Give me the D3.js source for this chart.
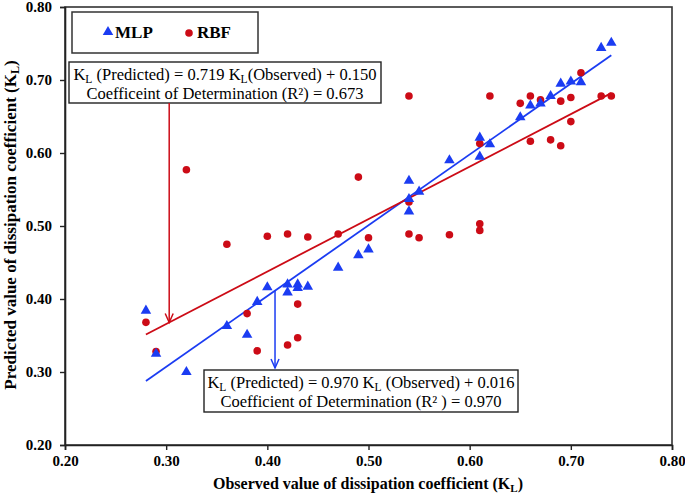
<!DOCTYPE html>
<html><head><meta charset="utf-8">
<script src="https://cdn.jsdelivr.net/npm/d3@7/dist/d3.min.js"></script>
<style>body{margin:0;background:#fff}svg{display:block}</style>
</head><body><svg id="c" width="685" height="495"></svg>
<script>
// ---- data ----
const xTicks = [0.20, 0.30, 0.40, 0.50, 0.60, 0.70, 0.80];
const yTicks = [0.20, 0.30, 0.40, 0.50, 0.60, 0.70, 0.80];
const seriesNames = ["MLP", "RBF"];
const mlpObserved  = [0.28,0.29,0.32,0.36,0.38,0.39,0.40,0.42,0.42,0.43,0.43,0.44,0.47,0.49,0.50,0.54,0.54,0.54,0.55,0.58,0.61,0.61,0.62,0.65,0.66,0.67,0.68,0.69,0.70,0.71,0.73,0.74];
const mlpPredicted = [0.384,0.325,0.300,0.363,0.351,0.396,0.416,0.420,0.409,0.420,0.415,0.417,0.443,0.460,0.468,0.520,0.537,0.562,0.547,0.590,0.595,0.621,0.612,0.649,0.665,0.668,0.678,0.695,0.698,0.697,0.744,0.751];
const rbfObserved  = [0.28,0.29,0.32,0.36,0.38,0.39,0.40,0.42,0.42,0.43,0.43,0.44,0.47,0.49,0.50,0.54,0.54,0.54,0.55,0.58,0.61,0.61,0.61,0.62,0.65,0.66,0.66,0.67,0.68,0.69,0.69,0.70,0.70,0.71,0.73,0.74];
const rbfPredicted = [0.368,0.328,0.577,0.475,0.380,0.329,0.486,0.489,0.337,0.393,0.347,0.485,0.489,0.567,0.484,0.489,0.533,0.678,0.484,0.488,0.613,0.503,0.494,0.678,0.668,0.678,0.616,0.673,0.618,0.671,0.610,0.676,0.643,0.710,0.678,0.678];
const fitSlope     = [0.970, 0.719];   // MLP, RBF
const fitIntercept = [0.016, 0.150];
const fitRange     = [0.28, 0.74];
const fitR2        = [0.970, 0.673];
const arrowX       = [0.4076, 0.303];  // where the callout arrows meet the lines

// ---- layout ----
const W = 685, H = 495;
const m = {l: 65, r: 13, t: 7, b: 50};
const FONT = '"Liberation Serif", "Times New Roman", serif';
const svg = d3.select("#c");
const x = d3.scaleLinear().domain([0.2, 0.8]).range([m.l, W - m.r]);
const y = d3.scaleLinear().domain([0.2, 0.8]).range([H - m.b, m.t]);
const BLUE = "#1b3cf2", RED = "#cc0b16";
const colors = [BLUE, RED];
const txt = (sel) => sel.append("text").style("font-family", FONT).attr("fill", "#000");

// frame
svg.append("rect").attr("x", x(0.2)).attr("y", y(0.8))
  .attr("width", x(0.8) - x(0.2)).attr("height", y(0.2) - y(0.8))
  .attr("fill", "none").attr("stroke", "#333").attr("stroke-width", 1.6);

// axes
const fmt = d3.format(".2f");
const gx = svg.append("g").attr("transform", `translate(0,${y(0.2)})`)
  .call(d3.axisBottom(x).tickValues(xTicks).tickFormat(fmt).tickSize(5).tickPadding(5));
const gy = svg.append("g").attr("transform", `translate(${x(0.2)},0)`)
  .call(d3.axisLeft(y).tickValues(yTicks).tickFormat(fmt).tickSize(5).tickPadding(8));
[gx, gy].forEach(g => {
  g.select(".domain").attr("stroke", "#222").attr("stroke-width", 1.6);
  g.selectAll(".tick line").attr("stroke", "#222").attr("stroke-width", 1.4);
  g.selectAll(".tick text").style("font-family", FONT).attr("font-weight", "bold")
    .attr("font-size", 15).attr("fill", "#000");
});

// axis titles with subscript
function kl(sel, pre, post, sub) {
  sel.append("tspan").text(pre);
  sel.append("tspan").text("L").attr("font-size", sub).attr("dy", 3);
  sel.append("tspan").text(post).attr("dy", -3);
}
const xt = txt(svg).attr("x", 368).attr("y", 489).attr("text-anchor", "middle")
  .attr("font-weight", "bold").attr("font-size", 16);
kl(xt, "Observed value of dissipation coefficient (K", ")", 11);
const yt = txt(svg).attr("transform", "translate(16,225) rotate(-90)").attr("text-anchor", "middle")
  .attr("font-weight", "bold").attr("font-size", 17);
kl(yt, "Predicted value of dissipation coefficient (K", ")", 12);

// fit lines
const fits = fitSlope.map((s, i) => ({s, b: fitIntercept[i], c: colors[i]}));
svg.selectAll("line.fit").data(fits).enter().append("line")
  .attr("x1", x(fitRange[0])).attr("x2", x(fitRange[1]))
  .attr("y1", d => y(d.s * fitRange[0] + d.b)).attr("y2", d => y(d.s * fitRange[1] + d.b))
  .attr("stroke", d => d.c).attr("stroke-width", 1.8);

// points
const mlp = mlpObserved.map((v, i) => [v, mlpPredicted[i]]);
const rbf = rbfObserved.map((v, i) => [v, rbfPredicted[i]]);
const tri = d3.symbol().type(d3.symbolTriangle).size(48);
svg.selectAll("circle.rbf").data(rbf).enter().append("circle")
  .attr("cx", d => x(d[0])).attr("cy", d => y(d[1])).attr("r", 3.8).attr("fill", RED);
svg.selectAll("path.mlp").data(mlp).enter().append("path")
  .attr("d", tri).attr("transform", d => `translate(${x(d[0])},${y(d[1])})`).attr("fill", BLUE);

// legend
svg.append("rect").attr("x", 72).attr("y", 12).attr("width", 186).attr("height", 41)
  .attr("fill", "#fff").attr("stroke", "#333").attr("stroke-width", 1.5);
svg.append("path").attr("d", tri).attr("transform", "translate(108,32)").attr("fill", BLUE);
svg.append("circle").attr("cx", 189).attr("cy", 33).attr("r", 3.8).attr("fill", RED);
txt(svg).attr("x", 115).attr("y", 38).attr("font-weight", "bold").attr("font-size", 17).text(seriesNames[0]);
txt(svg).attr("x", 197).attr("y", 38).attr("font-weight", "bold").attr("font-size", 17).text(seriesNames[1]);

// callout boxes
function callout(bx, by, bw, bh, line1parts, line2, fs) {
  svg.append("rect").attr("x", bx).attr("y", by).attr("width", bw).attr("height", bh)
    .attr("fill", "#fff").attr("stroke", "#222").attr("stroke-width", 1.4);
  const t1 = txt(svg).attr("x", bx + bw / 2).attr("y", by + 18).attr("text-anchor", "middle").attr("font-size", fs);
  line1parts.forEach(p => {
    const ts = t1.append("tspan").text(p.t);
    if (p.sub) ts.attr("font-size", fs * 0.7).attr("dy", 3);
    if (p.up) ts.attr("dy", -3);
  });
  txt(svg).attr("x", bx + bw / 2).attr("y", by + 37).attr("text-anchor", "middle").attr("font-size", fs).text(line2);
}
callout(69, 62, 312, 41, [
  {t: "K"}, {t: "L", sub: 1}, {t: " (Predicted) = " + fitSlope[1].toFixed(3) + " K", up: 1}, {t: "L", sub: 1},
  {t: "(Observed) + " + fitIntercept[1].toFixed(3), up: 1}],
  "Coefficeint of Determination (R\u00B2) = " + fitR2[1].toFixed(3), 16.5);
callout(204, 370, 314, 42, [
  {t: "K"}, {t: "L", sub: 1}, {t: " (Predicted)  = " + fitSlope[0].toFixed(3) + " K", up: 1}, {t: "L", sub: 1},
  {t: " (Observed) + " + fitIntercept[0].toFixed(3), up: 1}],
  "Coefficient of Determination  (R\u00B2 ) = " + fitR2[0].toFixed(3), 16.5);

// arrows
function arrow(xp, y0, y1, c) {
  svg.append("line").attr("x1", xp).attr("x2", xp).attr("y1", y0).attr("y2", y1).attr("stroke", c).attr("stroke-width", 1.5);
  svg.append("path").attr("d", `M${xp - 4},${y1 - 9}L${xp},${y1}L${xp + 4},${y1 - 9}`)
    .attr("fill", "none").attr("stroke", c).attr("stroke-width", 1.5);
}
arrow(x(arrowX[1]), 103, y(fitSlope[1] * arrowX[1] + fitIntercept[1]), RED);
arrow(x(arrowX[0]), y(fitSlope[0] * arrowX[0] + fitIntercept[0]), 368, BLUE);
</script></body></html>
